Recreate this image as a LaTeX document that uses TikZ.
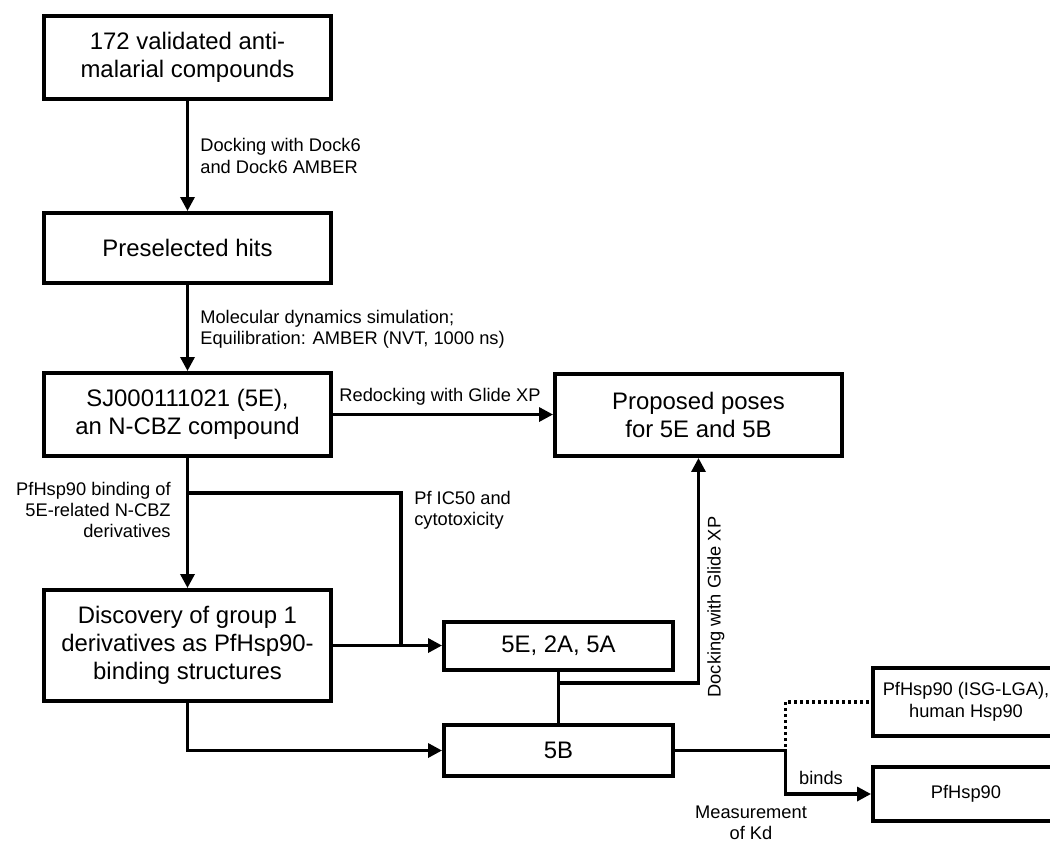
\documentclass[tikz,border=0pt]{standalone}
\usepackage{fontspec}
\setmainfont{Liberation Sans}
\usetikzlibrary{arrows.meta}

\begin{document}
\begin{tikzpicture}[x=0.02cm, y=-0.02cm,
    box/.style={draw, line width=0.08cm, align=center, inner sep=0pt, font=\fontsize{13.6}{15.9}\selectfont},
    smallbox/.style={box, font=\fontsize{10.4}{12.4}\selectfont},
    lbl/.style={inner sep=0pt, font=\fontsize{10.4}{12.2}\selectfont},
    arr/.style={line width=0.066cm, -{Triangle[length=0.28cm, width=0.28cm]}},
    link/.style={line width=0.066cm},
    dots/.style={line width=0.066cm, dash pattern=on 0.06cm off 0.06cm}]
\useasboundingbox (0,0) rectangle (1050,842);

            \node[box, minimum width=5.74cm, minimum height=1.66cm] at (187.5,57.5)  (cpds)  {172 validated anti-\\malarial compounds};
            \node[box, minimum width=5.74cm, minimum height=1.4cm]  at (187.5,248)   (hits)  {Preselected hits};
            \node[box, minimum width=5.74cm, minimum height=1.66cm] at (187.5,414.5) (sj)    {SJ000111021 (5E),\\an N-CBZ compound};
            \node[box, minimum width=5.74cm, minimum height=1.64cm] at (698.5,415)   (poses) {Proposed poses\\for 5E and 5B};
            \node[box, minimum width=5.74cm, minimum height=2.22cm] at (187.5,645.5) (disc)  {Discovery of group 1\\derivatives as PfHsp90-\\binding structures};
            \node[box, minimum width=4.58cm, minimum height=0.96cm] at (558.5,646)   (grp)   {5E, 2A, 5A};
            \node[box, minimum width=4.58cm, minimum height=1.02cm] at (558.5,750.5) (b5)    {5B};
            \node[smallbox, minimum width=3.72cm, minimum height=1.36cm] at (966,702) (hhsp) {PfHsp90 (ISG-LGA),\\human Hsp90};
            \node[smallbox, minimum width=3.72cm, minimum height=1.08cm] at (966,794) (pf)   {PfHsp90};

            \coordinate (split)  at (187.5,493);
            \coordinate (icjoin) at (401,645.5);
            \coordinate (gsplit) at (558.5,683);
            \coordinate (fork)   at (785.5,750.5);

            \draw[arr] (cpds) -- (hits);
            \draw[arr] (hits) -- (sj);
            \draw[arr] (sj.east) -- (sj.east -| poses.west);
            \draw[arr] (sj) -- (disc);
            \draw[link] (split) -| (icjoin);
            \draw[arr] (disc.east) -- (disc.east -| grp.west);
            \draw[link] (grp) -- (b5);
            \draw[arr] (gsplit) -| (poses.south);
            \draw[arr] (disc.south) |- (b5.west);
            \draw[arr] (b5.east) -- (fork) |- (pf.west);
            \draw[dots] (b5.east) -- (fork) |- (hhsp.west);

            \node[lbl, anchor=west, align=left]  at (200,156)   (dockl)   {Docking with Dock6\\and Dock6 AMBER};
            \node[lbl, anchor=west, align=left]  at (200,329)   (mdl)     {Molecular dynamics simulation;\\Equilibration: AMBER (NVT, 1000 ns)};
            \node[lbl]                           at (440,397)   (redockl) {Redocking with Glide XP};
            \node[lbl, anchor=east, align=right] at (171,510)   (bindl)   {PfHsp90 binding of\\5E-related N-CBZ\\derivatives};
            \node[lbl, anchor=west, align=left]  at (414,510)   (icl)     {Pf IC50 and\\cytotoxicity};
            \node[lbl, rotate=90]                at (716,607)   (glidel)  {Docking with Glide XP};
            \node[lbl]                           at (821,778)   (bindsl)  {binds};
            \node[lbl, align=center]             at (751,823)   (kdl)     {Measurement\\of Kd};
\end{tikzpicture}
\end{document}
